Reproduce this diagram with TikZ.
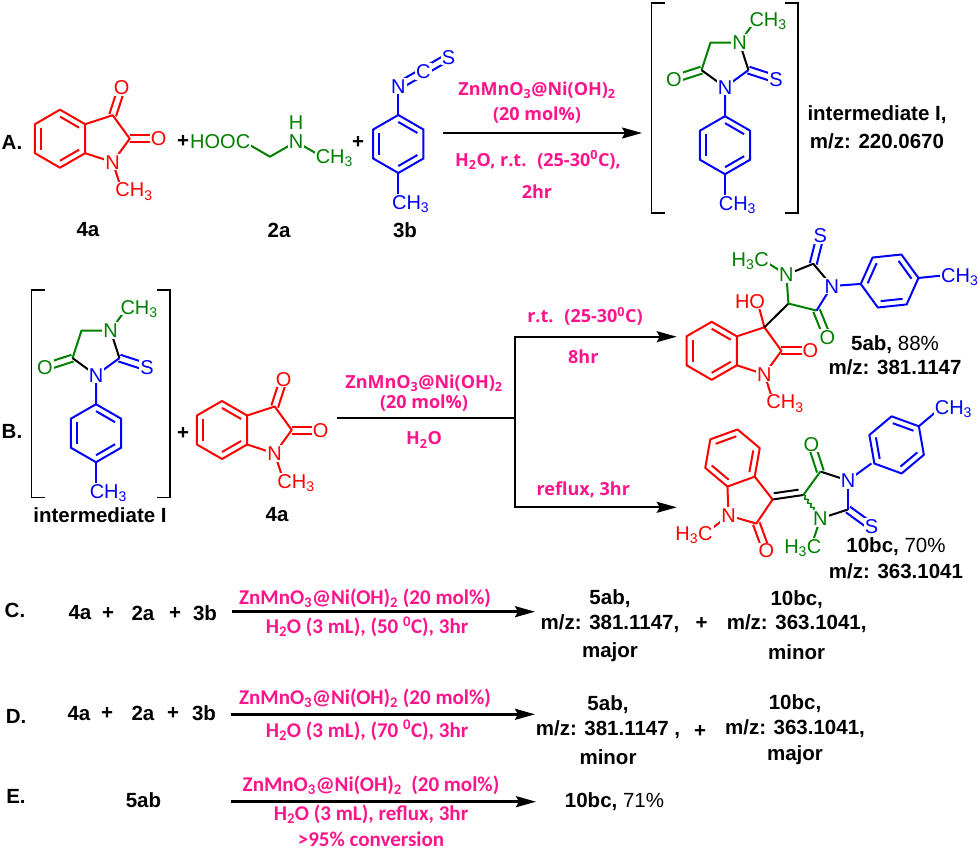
\documentclass[tikz,border=0pt]{standalone}
\usepackage{fontspec}
\setmainfont{Liberation Sans}
\newfontfamily\reagfont{Open Sans}
\newfontfamily\condfont{Carlito}
\usetikzlibrary{arrows.meta,calc,decorations.pathmorphing}

\definecolor{isared}{RGB}{255,0,0}
\definecolor{glygreen}{RGB}{0,128,0}
\definecolor{arblue}{RGB}{0,0,255}
\definecolor{condpink}{RGB}{255,20,140}

\newcommand{\bondlen}{29}
\newcommand{\pentrad}{24.67}
\newcommand{\pentexo}{53.67}

% inner line of an aromatic double bond, exocyclic double bond
\newcommand{\ibond}[3]{\draw ($(#1)!0.24!(#3)$) -- ($(#2)!0.24!(#3)$);}
\newcommand{\dbond}[2]{%
  \draw ($(#1)!3.5pt!90:(#2)$) -- ($(#2)!3.5pt!-90:(#1)$);
  \draw ($(#1)!3.5pt!-90:(#2)$) -- ($(#2)!3.5pt!90:(#1)$);}

% benzene ring: prefix, centre, angle of first corner
\newcommand{\hexring}[4]{%
  \coordinate (#1c) at (#2,#3);
  \foreach \nn in {1,...,6}
    \coordinate (#1\nn) at ({#2+\bondlen*cos(#4+60*(\nn-1))},{#3-\bondlen*sin(#4+60*(\nn-1))});
  \draw (#11) -- (#12) -- (#13) -- (#14) -- (#15) -- (#16) -- cycle;
  \ibond{#12}{#13}{#1c}\ibond{#14}{#15}{#1c}\ibond{#16}{#11}{#1c}}

% five ring: corners (#11..#15) and exocyclic ends (#1x1..#1x5)
\newcommand{\pent}[4]{%
  \foreach \nn in {1,...,5}{
    \coordinate (#1\nn) at ({#2+\pentrad*cos(#4-72*(\nn-1))},{#3-\pentrad*sin(#4-72*(\nn-1))});
    \coordinate (#1x\nn) at ({#2+\pentexo*cos(#4-72*(\nn-1))},{#3-\pentexo*sin(#4-72*(\nn-1))});}}

% N-methyl isatin core: prefix, benzene centre, rotation
\newcommand{\isatin}[4]{%
  \hexring{#1}{#2}{#3}{90+#4}
  \pent{#1p}{#2+45.07*cos(#4)}{#3-45.07*sin(#4)}{144+#4}
  \draw (#1p1) -- (#1p2) -- (#1p3) -- (#1p4) -- (#1p5);
  \draw (#1p4) -- (#1px4);
  \dbond{#1p3}{#1px3}
  \node[atom] (#1N) at (#1p4) {N};
  \node[atom] (#1O) at (#1px3) {O};}

% isatin 4a
\newcommand{\isatinfoura}[3]{%
  \begin{scope}[bond, isared]
    \isatin{#1}{#2}{#3}{0}
    \dbond{#1p2}{#1px2}
    \node[atom] (#1O3) at (#1px2) {O};
    \node[cright] (#1Me) at (#1px4) {CH\textsubscript{3}};
  \end{scope}}

% intermediate I: prefix, centre of the five ring
\newcommand{\interI}[3]{%
  \pent{#1}{#2}{#3}{-90}
  \begin{scope}[bond, glygreen]
    \draw (#12) -- (#13) -- (#14) -- (#1x4);
    \dbond{#12}{#1x2}
  \end{scope}
  \begin{scope}[bond]
    \draw (#12) -- (#11);
    \draw (#14) -- (#15);
  \end{scope}
  \begin{scope}[bond, arblue]
    \draw (#15) -- (#11) -- (#1x1);
    \dbond{#15}{#1x5}
    \hexring{#1t}{#2}{#3+82.7}{90}
    \coordinate (#1me) at (#2,#3+140.7);
    \draw (#1t4) -- (#1me);
    \node[atom] (#1N3) at (#11) {N};
    \node[atom] (#1S) at (#1x5) {S};
    \node[cright] (#1Me2) at (#1me) {CH\textsubscript{3}};
  \end{scope}
  \begin{scope}[glygreen]
    \node[atom] (#1O) at (#1x2) {O};
    \node[atom] (#1N1) at (#14) {N};
    \node[cright] (#1Me1) at (#1x4) {CH\textsubscript{3}};
  \end{scope}}

\begin{document}
\begin{tikzpicture}[x=1pt, y=-1pt,
    bond/.style={line width=2pt, line join=round},
    atom/.style={font=\fontsize{20}{20}\selectfont, inner sep=1pt, fill=white, text height=14.3pt, text depth=0pt},
    cright/.style={atom, anchor=west, xshift=-8.2pt},
    cleft/.style={atom, anchor=east, xshift=8.2pt},
    lbl/.style={font=\bfseries\fontsize{20.5}{22}\selectfont, inner sep=0pt},
    reag/.style={font=\reagfont\bfseries\fontsize{18}{20}\selectfont, text=condpink, inner sep=0pt},
    reagc/.style={font=\condfont\bfseries\fontsize{21}{22}\selectfont, text=condpink, inner sep=0pt},
    rxn/.style={line width=2pt, -{Stealth[length=20pt, width=11pt, inset=3pt]}},
    brk/.style={line width=1.3pt}
  ]
  \fill[white] (0,0) rectangle (979,850);
  \useasboundingbox (0,0) rectangle (979,850);

  % A: three components
  \node[lbl] (secA) at (12,142) {A.};
  \isatinfoura{ia}{60}{138.7}
  \node[lbl] (plusA1) at (183,141) {+};
  \begin{scope}[bond, glygreen]
    \coordinate (sarC) at (244,141.7);
    \coordinate (sarCH) at (270,156.7);
    \coordinate (sarN) at (296,141.7);
    \coordinate (sarMe) at (322,156.7);
    \draw (sarC) -- (sarCH) -- (sarN) -- (sarMe);
    \node[cleft] (sarHOOC) at (sarC) {HOOC};
    \node[atom] (sarNl) at (sarN) {N};
    \node[atom] (sarH) at (296,122) {H};
    \node[cright] (sarMel) at (sarMe) {CH\textsubscript{3}};
  \end{scope}
  \node[lbl] (plusA2) at (358,142) {+};
  \begin{scope}[bond, arblue]
    \hexring{ta}{398.3}{144}{90}
    \coordinate (taN) at (398.3,86);
    \coordinate (taC) at (423.4,71.5);
    \coordinate (taS) at (448.5,57);
    \coordinate (taMe) at (398.3,202);
    \draw (ta1) -- (taN);
    \draw (ta4) -- (taMe);
    \dbond{taN}{taC}
    \dbond{taC}{taS}
    \node[atom] (taNl) at (taN) {N};
    \node[atom] (taCl) at (taC) {C};
    \node[atom] (taSl) at (taS) {S};
    \node[cright] (taMel) at (taMe) {CH\textsubscript{3}};
  \end{scope}
  \node[lbl] (name4a) at (88,230) {4a};
  \node[lbl] (name2a) at (279,230) {2a};
  \node[lbl] (name3b) at (405,230) {3b};

  % A: arrow and conditions
  \coordinate (arrAs) at (443,133);
  \coordinate (arrAe) at (642,133);
  \draw[rxn] (arrAs) -- (arrAe);
  \node[reag] (condA1) at (537,90) {ZnMnO\textsubscript{3}@Ni(OH)\textsubscript{2}};
  \node[reag] (condA2) at (537,115) {(20 mol\%)};
  \node[reag] (condA3) at (538,160) {H\textsubscript{2}O, r.t.~ (25-30\textsuperscript{0}C),};
  \node[reag] (condA4) at (537,192) {2hr};

  % A: intermediate I
  \draw[brk] (664.7,3) -- (651.7,3) -- (651.7,213) -- (664.7,213);
  \draw[brk] (785,3) -- (798,3) -- (798,213) -- (785,213);
  \interI{ma}{725}{62.5}
  \node[lbl] (intA1) at (877,115) {intermediate I,};
  \node[lbl] (intA2) at (877,141.7) {m/z: 220.0670};

  % B: intermediate I + 4a
  \node[lbl] (secB) at (12,431) {B.};
  \draw[brk] (44.7,290) -- (31.7,290) -- (31.7,497.3) -- (44.7,497.3);
  \draw[brk] (157,290) -- (170,290) -- (170,497.3) -- (157,497.3);
  \interI{mb}{96}{350.5}
  \node[lbl] (plusB) at (183,433) {+};
  \isatinfoura{ib}{222}{430}
  \node[lbl] (nameInt) at (100,515) {intermediate I};
  \node[lbl] (name4aB) at (277,515) {4a};

  % B: split arrow
  \coordinate (arrBs) at (336.7,418.3);
  \coordinate (arrBj) at (515,418.3);
  \coordinate (arrBt) at (676.7,336.7);
  \coordinate (arrBb) at (676.7,507.3);
  \draw[line width=2pt] (arrBs) -- (arrBj);
  \draw[rxn] (arrBj) |- (arrBt);
  \draw[rxn] (arrBj) |- (arrBb);
  \node[reag] (condB1) at (424,383) {ZnMnO\textsubscript{3}@Ni(OH)\textsubscript{2}};
  \node[reag] (condB2) at (424,403) {(20 mol\%)};
  \node[reag] (condB3) at (424,440) {H\textsubscript{2}O};
  \node[reag] (condB4) at (585,316.7) {r.t.~ (25-30\textsuperscript{0}C)};
  \node[reag] (condB5) at (583.3,356.7) {8hr};
  \node[reag] (condB6) at (583.3,490) {reflux, 3hr};

  % B: product 5ab
  \begin{scope}[bond, isared]
    \isatin{ic}{711.7}{350.8}{0}
    \coordinate (icHO) at ($(icp2)+(-7,-26)$);
    \draw (icp2) -- (icHO);
  \end{scope}
  \pent{mc}{807.3}{287.7}{76}
  \begin{scope}[bond]
    \draw (icp2) -- (mc4);
    \draw (mc2) -- (mc1) -- (mc5);
  \end{scope}
  \begin{scope}[bond, glygreen]
    \draw (mc3) -- (mc4) -- (mc5) -- (mcx5);
    \dbond{mc3}{mcx3}
  \end{scope}
  \begin{scope}[bond, arblue]
    \draw (mc3) -- (mc2) -- (mcx2);
    \dbond{mc1}{mcx1}
    \hexring{td}{889.6}{281.0}{186}
    \coordinate (tdMe) at (947.3,275.0);
    \draw (td4) -- (tdMe);
    \node[atom] (mcS) at (mcx1) {S};
    \node[atom] (mcN3) at (mc2) {N};
    \node[cright] (tdMel) at (tdMe) {CH\textsubscript{3}};
  \end{scope}
  \begin{scope}[isared]
    \node[cright] (icMe) at (icpx4) {CH\textsubscript{3}};
    \node[atom, anchor=east, xshift=8.8pt] (icHOl) at (icHO) {HO};
  \end{scope}
  \begin{scope}[glygreen]
    \node[atom] (mcO) at (mcx3) {O};
    \node[atom] (mcN1) at (mc5) {N};
    \node[cleft] (mcMe) at (mcx5) {H\textsubscript{3}C};
  \end{scope}
  \node[lbl] (lab5ab) at (895,345) {5ab, {\mdseries 88\%}};
  \node[lbl] (mz5ab) at (895,367) {m/z: 381.1147};

  % B: product 10bc
  \begin{scope}[bond, isared]
    \isatin{id}{732.5}{458}{(-70)}
  \end{scope}
  \pent{mk}{828}{495}{180}
  \begin{scope}[bond]
    \draw (idp2) -- (mk1);
    \draw[shorten <=2pt, shorten >=4pt] ($(idp2)!6pt!90:(mk1)$) -- ($(mk1)!6pt!-90:(idp2)$);
    \draw (mk2) -- (mk3);
    \draw (mk4) -- (mk5);
  \end{scope}
  \begin{scope}[bond, glygreen]
    \draw (mk1) -- (mk2);
    \draw (mk5) -- (mkx5);
    \draw[line width=1.4pt, decorate, decoration={snake, amplitude=1.4pt, segment length=5pt}] (mk1) -- (mk5);
    \dbond{mk2}{mkx2}
  \end{scope}
  \begin{scope}[bond, arblue]
    \draw (mk3) -- (mk4);
    \draw (mk3) -- (mkx3);
    \dbond{mk4}{mkx4}
    \hexring{te}{896.6}{444.9}{220}
    \coordinate (teMe) at (941.0,407.6);
    \draw (te4) -- (teMe);
    \node[atom] (mkN3) at (mk3) {N};
    \node[atom] (mkS) at (mkx4) {S};
    \node[cright] (teMel) at (teMe) {CH\textsubscript{3}};
  \end{scope}
  \begin{scope}[isared]
    \node[cleft] (idMe) at (idpx4) {H\textsubscript{3}C};
  \end{scope}
  \begin{scope}[glygreen]
    \node[atom] (mkO) at (mkx2) {O};
    \node[atom] (mkN1) at (mk5) {N};
    \node[cleft, xshift=3pt] (mkMe) at (mkx5) {H\textsubscript{3}C};
  \end{scope}
  \node[lbl] (lab10bc) at (896,546.7) {10bc, {\mdseries 70\%}};
  \node[lbl] (mz10bc) at (896,571.7) {m/z: 363.1041};

  % C
  \node[lbl] (secC) at (15,610) {C.};
  \node[lbl] (c4a) at (80,613) {4a};
  \node[lbl] (cplus1) at (108,613) {+};
  \node[lbl] (c2a) at (143,613) {2a};
  \node[lbl] (cplus2) at (175,613) {+};
  \node[lbl] (c3b) at (205,613) {3b};
  \coordinate (arrCs) at (231.7,611.7);
  \coordinate (arrCe) at (535,611.7);
  \draw[rxn, line width=2.6pt] (arrCs) -- (arrCe);
  \node[reagc] (condC1) at (365,598.3) {ZnMnO\textsubscript{3}@Ni(OH)\textsubscript{2} (20 mol\%)};
  \node[reagc] (condC2) at (367,626.7) {H\textsubscript{2}O (3 mL), (50 \textsuperscript{0}C), 3hr};
  \node[lbl] (c5ab) at (610,598.3) {5ab,};
  \node[lbl] (cmz5ab) at (610,623.3) {m/z: 381.1147,};
  \node[lbl] (cmajor) at (610,651.7) {major};
  \node[lbl] (cplus3) at (701.7,623.3) {+};
  \node[lbl] (c10bc) at (796.7,600) {10bc,};
  \node[lbl] (cmz10bc) at (796.7,623.3) {m/z: 363.1041,};
  \node[lbl] (cminor) at (796.7,651.7) {minor};

  % D
  \node[lbl] (secD) at (16,716.7) {D.};
  \node[lbl] (d4a) at (79,713.3) {4a};
  \node[lbl] (dplus1) at (107,713.3) {+};
  \node[lbl] (d2a) at (143,713.3) {2a};
  \node[lbl] (dplus2) at (173,713.3) {+};
  \node[lbl] (d3b) at (204,713.3) {3b};
  \coordinate (arrDs) at (231,714.3);
  \coordinate (arrDe) at (535,714.3);
  \draw[rxn, line width=2.6pt] (arrDs) -- (arrDe);
  \node[reagc] (condD1) at (365,698.3) {ZnMnO\textsubscript{3}@Ni(OH)\textsubscript{2} (20 mol\%)};
  \node[reagc] (condD2) at (367,730) {H\textsubscript{2}O (3 mL), (70 \textsuperscript{0}C), 3hr};
  \node[lbl] (d5ab) at (608,705) {5ab,};
  \node[lbl] (dmz5ab) at (608,730) {m/z: 381.1147 ,};
  \node[lbl] (dminor) at (608,756.7) {minor};
  \node[lbl] (dplus3) at (700,731.7) {+};
  \node[lbl] (d10bc) at (795,703.3) {10bc,};
  \node[lbl] (dmz10bc) at (795,728.3) {m/z: 363.1041,};
  \node[lbl] (dmajor) at (795,755) {major};

  % E
  \node[lbl] (secE) at (16,796.7) {E.};
  \node[lbl] (e5ab) at (143.5,800) {5ab};
  \coordinate (arrEs) at (231,801.7);
  \coordinate (arrEe) at (536,801.7);
  \draw[rxn, line width=2.6pt] (arrEs) -- (arrEe);
  \node[reagc] (condE1) at (371,785) {ZnMnO\textsubscript{3}@Ni(OH)\textsubscript{2}~ (20 mol\%)};
  \node[reagc] (condE2) at (371,814.3) {H\textsubscript{2}O (3 mL), reflux, 3hr};
  \node[reagc] (condE3) at (371,839.3) {>95\% conversion};
  \node[lbl] (e10bc) at (614.5,801.7) {10bc, {\mdseries 71\%}};
\end{tikzpicture}
\end{document}
